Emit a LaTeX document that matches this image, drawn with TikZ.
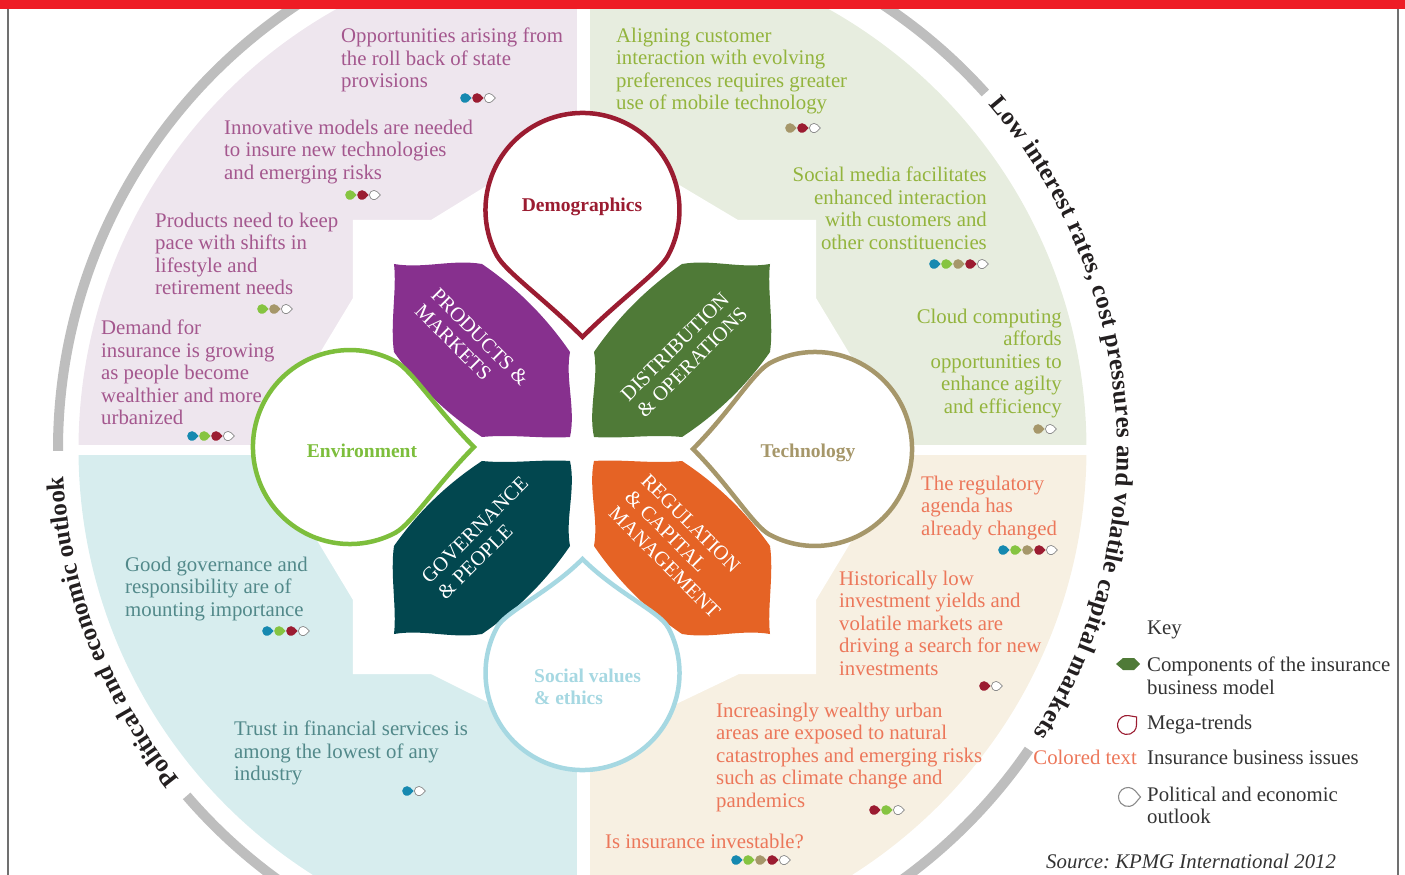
\documentclass[tikz,border=0pt]{standalone}
\usepackage{fontspec}
\setmainfont{Liberation Serif}
\usetikzlibrary{decorations.text}
\frenchspacing

% quadrant backgrounds
\definecolor{qlilac}{HTML}{EEE6EE}
\definecolor{qgreen}{HTML}{E7EDDF}
\definecolor{qteal}{HTML}{D7EDEE}
\definecolor{qbeige}{HTML}{F7F0E2}
% issue text colours
\definecolor{tlilac}{HTML}{A4578E}
\definecolor{tgreen}{HTML}{93B43D}
\definecolor{tteal}{HTML}{52898A}
\definecolor{tcoral}{HTML}{EC775A}
% business model components
\definecolor{ppurple}{HTML}{87308E}
\definecolor{pgreen}{HTML}{4F7A37}
\definecolor{pteal}{HTML}{02474F}
\definecolor{porange}{HTML}{E56325}
% mega-trends
\definecolor{mred}{HTML}{9B1C31}
\definecolor{mgreen}{HTML}{7DBE3C}
\definecolor{mkhaki}{HTML}{A6976A}
\definecolor{mblue}{HTML}{A6D8E2}
\definecolor{dblue}{HTML}{1689B0}
\definecolor{dgreen}{HTML}{86C441}
\definecolor{dotgray}{HTML}{8A8A8A}
\definecolor{ringgray}{HTML}{BEBEBE}
\definecolor{ringtext}{HTML}{231F20}
\definecolor{keytext}{HTML}{333333}
\definecolor{barred}{HTML}{EE1C25}
\definecolor{framegray}{HTML}{707070}

% a mega-trend drop: centre x, centre y, tip angle, tip distance, colour, name
\newcommand\megadrop[6]{%
  \begin{scope}[shift={(#1,#2)}, rotate=#3]
    \draw[line width=4.5pt, draw=#5, fill=white, line join=miter]
      (45.5,-85.6) .. controls (61.4,-77.2) and ({0.7*#4},{-0.3*#4}) .. (#4,0)
      .. controls ({0.7*#4},{0.3*#4}) and (61.4,77.2) .. (45.5,85.6)
      arc[start angle=62, end angle=298, radius=97] -- cycle;
    \coordinate (#6) at (0,0);
  \end{scope}}

% a business model leaf, mirrored into its quadrant: x scale, y scale, colour
\newcommand\petal[3]{%
  \begin{scope}[xscale=#1, yscale=#2]
    \fill[#3] (-188,185) .. controls (-158,180) and (-130,190) .. (-100,185)
      .. controls (-65,161) and (-36,132) .. (-12,97)
      .. controls (-17,70) and (-6,40) .. (-12,12)
      .. controls (-40,10) and (-70,15) .. (-100,12)
      .. controls (-135,35) and (-164,63) .. (-188,97)
      .. controls (-192,125) and (-185,160) .. (-188,185) -- cycle;
  \end{scope}}

% a row of trend dots ending with the open outlook dot
\newcommand\dotrow[4]{%
  \foreach \dc [count=\di from 0] in {#3} {\pic at ({#1+12*\di},#2) {trenddot=\dc};}
  \pic at ({#1+12*#4},#2) {opendot};}

\begin{document}
\begin{tikzpicture}[x=1pt, y=1pt,
  qtext/.style={font=\fontsize{20.8}{22.5}\selectfont, inner sep=0pt, align=left, anchor=north west},
  qtextr/.style={font=\fontsize{20.8}{22.5}\selectfont, inner sep=0pt, align=right, anchor=north east},
  ktext/.style={qtext, text=keytext},
  ptext/.style={text=white, font=\fontsize{20.5}{23}\selectfont, align=left, inner sep=0pt},
  mlabel/.style={font=\bfseries\fontsize{19.5}{22}\selectfont, inner sep=0pt},
  pics/trenddot/.style={code={\fill[fill=#1] (0:6.6) -- (44:4.8) arc[start angle=44, end angle=316, radius=4.8] -- cycle;}},
  pics/opendot/.style={code={\draw[draw=dotgray, line width=0.7pt, fill=white] (0:6.4) -- (44:4.6) arc[start angle=44, end angle=316, radius=4.6] -- cycle;}}
]
\useasboundingbox (-582,-426) rectangle (823,449);
\clip (-582,-426) rectangle (823,449);

% four quadrants of the issue wheel
\begin{scope}
  \clip (0.5,0) circle[radius=504];
  \fill[qlilac] (-600,4) rectangle (-5,600);
  \fill[qgreen] (8,4) rectangle (600,600);
  \fill[qteal] (-600,-6) rectangle (-5,-600);
  \fill[qbeige] (8,-6) rectangle (600,-600);
\end{scope}

% white centre field
\fill[white] (-229,229) -- (-151,229) -- (0,322) -- (156,229) -- (234,229) -- (234,151)
  -- (325,0) -- (234,-151) -- (234,-225) -- (157,-225) -- (0,-300) -- (-151,-225)
  -- (-229,-225) -- (-229,-151) -- (-320,0) -- (-229,151) -- cycle;

% outer ring of the political and economic outlook
\begin{scope}[shift={(8,0)}]
  \draw[ringgray, line width=10pt] (42:532) arc[start angle=42, end angle=180.2, radius=532];
  \draw[ringgray, line width=10pt] (220.7:532) arc[start angle=220.7, end angle=325.6, radius=532];
  \path[decorate, decoration={text along path, text align={fit to path},
    text={|\bfseries\fontsize{25}{25}\selectfont\color{ringtext}|Low interest rates, cost pressures and volatile capital markets}}]
    (40.8:527) arc[start angle=40.8, end angle=-32.6, radius=527];
  \path[decorate, decoration={text along path, text align={fit to path},
    text={|\bfseries\fontsize{25}{25}\selectfont\color{ringtext}|Political and economic outlook}}]
    (218.9:527) arc[start angle=218.9, end angle=183, radius=527];
\end{scope}

% insurance business issues
\node[qtext, text=tlilac] (t1) at (-241,421.2) {Opportunities arising from\\the roll back of state\\provisions};
\node[qtext, text=tlilac] (t2) at (-358,329.2) {Innovative models are needed\\to insure new technologies\\and emerging risks};
\node[qtext, text=tlilac] (t3) at (-427,236.2) {Products need to keep\\pace with shifts in\\lifestyle and\\retirement needs};
\node[qtext, text=tlilac] (t4) at (-481,129.2) {Demand for\\insurance is growing\\as people become\\wealthier and more\\urbanized};
\node[qtext, text=tgreen] (t5) at (34,421.2) {Aligning customer\\interaction with evolving\\preferences requires greater\\use of mobile technology};
\node[qtextr, text=tgreen] (t6) at (405,282.2) {Social media facilitates\\enhanced interaction\\with customers and\\other constituencies};
\node[qtextr, text=tgreen] (t7) at (480,140.2) {Cloud computing\\affords\\opportunities to\\enhance agilty\\and efficiency};
\node[qtext, text=tcoral] (t8) at (339,-26.8) {The regulatory\\agenda has\\already changed};
\node[qtext, text=tcoral] (t9) at (257,-121.8) {Historically low\\investment yields and\\volatile markets are\\driving a search for new\\investments};
\node[qtext, text=tcoral] (t10) at (134,-253.8) {Increasingly wealthy urban\\areas are exposed to natural\\catastrophes and emerging risks\\such as climate change and\\pandemics};
\node[qtext, text=tcoral] (t11) at (23,-384.8) {Is insurance investable?};
\node[qtext, text=tteal] (t12) at (-457,-107.8) {Good governance and\\responsibility are of\\mounting importance};
\node[qtext, text=tteal] (t13) at (-348,-271.8) {Trust in financial services is\\among the lowest of any\\industry};

% trend markers under each issue
\dotrow{-117}{351}{dblue,mred}{2}
\dotrow{-232}{254}{dgreen,mred}{2}
\dotrow{-320}{140}{dgreen,mkhaki}{2}
\dotrow{-390}{13}{dblue,dgreen,mred}{3}
\dotrow{208}{321}{mkhaki,mred}{2}
\dotrow{352}{185}{dblue,dgreen,mkhaki,mred}{4}
\dotrow{456}{20}{mkhaki}{1}
\dotrow{421}{-101}{dblue,dgreen,mkhaki,mred}{4}
\dotrow{402}{-237}{mred}{1}
\dotrow{292}{-361}{mred,dgreen}{2}
\dotrow{154}{-411}{dblue,dgreen,mkhaki,mred}{4}
\dotrow{-315}{-182}{dblue,dgreen,mred}{3}
\dotrow{-175}{-342}{dblue}{1}

% components of the business model
\petal{1}{1}{ppurple}
\petal{-1}{1}{pgreen}
\petal{1}{-1}{pteal}
\petal{-1}{-1}{porange}
\node[ptext, rotate=-45] (pm) at (-110,104) {PRODUCTS \&\\MARKETS};
\node[ptext, rotate=45] (do) at (102,95) {DISTRIBUTION\\\& OPERATIONS};
\node[ptext, rotate=-45] (rc) at (99,-97) {REGULATION\\\& CAPITAL\\MANAGEMENT};
\node[ptext, rotate=45] (gp) at (-99,-89) {GOVERNANCE\\\& PEOPLE};

% mega-trends
\megadrop{0.5}{239}{-90}{127}{mred}{demodrop}
\megadrop{-232}{2}{0}{124}{mgreen}{envidrop}
\megadrop{233}{0}{180}{122}{mkhaki}{techdrop}
\megadrop{0.5}{-224}{90}{114}{mblue}{socidrop}
\node[mlabel, text=mred] (demo) at (0,242) {Demographics};
\node[mlabel, text=mgreen] (envi) at (-220,-2) {Environment};
\node[mlabel, text=mkhaki] (tech) at (226,-4) {Technology};
\node[mlabel, text=mblue, align=left, anchor=west] (soci) at (-48,-238) {Social values\\\& ethics};

% title bar and frame
\fill[barred] (-582,439.5) rectangle (823,449);
\draw[framegray, line width=1.2pt] (-574,439.5) -- (-574,-426);
\draw[framegray, line width=1.2pt] (816,439.5) -- (816,-426);

% key
\node[ktext] (k0) at (565,-171.8) {Key};
\fill[pgreen] (534,-215) -- (541,-209) -- (552,-209) -- (558,-215) -- (552,-221) -- (541,-221) -- cycle;
\node[ktext] (k1) at (565,-207.8) {Components of the insurance\\business model};
\begin{scope}[shift={(545,-276)}]
  \draw[mred, line width=1.1pt, fill=white] (40:12.5) -- (80.5:9.5) arc[start angle=80.5, end angle=359.5, radius=9.5] -- cycle;
\end{scope}
\node[ktext] (k2) at (565,-265.8) {Mega-trends};
\node[qtextr, text=tcoral] (k3) at (555,-300.8) {Colored text};
\node[ktext] (k4) at (565,-300.8) {Insurance business issues};
\begin{scope}[shift={(546,-348)}]
  \draw[dotgray, line width=1.1pt, fill=white] (0:12.5) -- (40.5:9.5) arc[start angle=40.5, end angle=319.5, radius=9.5] -- cycle;
\end{scope}
\node[ktext] (k5) at (565,-337.8) {Political and economic\\outlook};
\node[ktext, font=\itshape\fontsize{20.8}{22.5}\selectfont] (src) at (464,-404.8) {Source: KPMG International 2012};
\end{tikzpicture}
\end{document}
